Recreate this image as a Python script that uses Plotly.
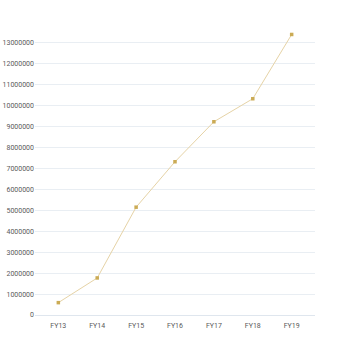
import plotly.graph_objects as go

categories = ["FY13", "FY14", "FY15", "FY16", "FY17", "FY18", "FY19"]
values = [590000, 1770000, 5150000, 7320000, 9230000, 10330000, 13400000]
y_ticks = list(range(0, 14000000, 1000000))

fig = go.Figure()
fig.add_trace(go.Scatter(
    x=categories, y=values, mode="lines+markers",
    line=dict(color="#e6d3a6", width=1),
    marker=dict(color="#cbab55", size=3.5, symbol="square"),
))
fig.update_layout(
    width=350, height=350,
    margin=dict(l=35, r=35, t=24, b=35),
    paper_bgcolor="white", plot_bgcolor="white",
    showlegend=False,
    font=dict(family="Roboto, sans-serif", size=7, color="#5a5a5a"),
)
fig.update_xaxes(
    type="category", range=[-0.6, 6.6], automargin=False,
    showgrid=False, showline=False, zeroline=False,
    ticks="outside", ticklen=4, tickcolor="rgba(0,0,0,0)",
    tickfont=dict(size=7, color="#5a5a5a"),
)
fig.update_yaxes(
    range=[0, 13900000], tickvals=y_ticks, ticktext=[str(v) for v in y_ticks],
    automargin=False,
    showgrid=True, gridcolor="#e9eef3", gridwidth=1,
    zeroline=True, zerolinecolor="#dfe6ee", zerolinewidth=1,
    showline=False, ticks="", ticklen=0,
    tickfont=dict(size=7, color="#5a5a5a"),
)
fig.write_html("out.html")
